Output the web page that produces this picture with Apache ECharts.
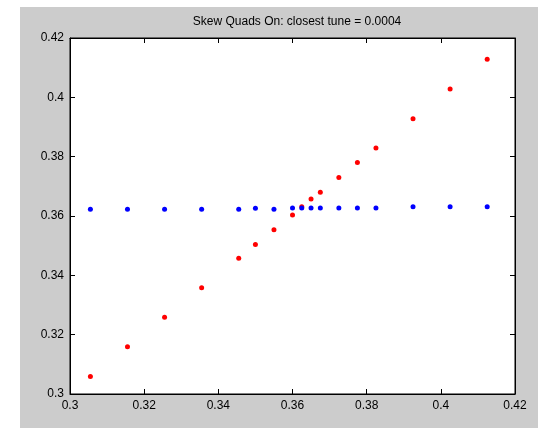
<!DOCTYPE html>
<html>
<head>
<meta charset="utf-8">
<script src="https://cdn.jsdelivr.net/npm/echarts@6/dist/echarts.min.js"></script>
<style>
  html, body { margin: 0; padding: 0; background: #ffffff; }
  #chart { width: 538px; height: 428px; }
</style>
</head>
<body>
<div id="chart"></div>
<script>
// tune scan data
const tuneX = [0.3055, 0.3155, 0.3255, 0.3355, 0.3455, 0.35, 0.355, 0.36, 0.3625, 0.365, 0.3675, 0.3725, 0.3775, 0.3825, 0.3925, 0.4025, 0.4125]
const redTune = [0.3059, 0.3159, 0.3259, 0.3358, 0.3458, 0.3504, 0.3554, 0.3603, 0.3631, 0.3657, 0.3680, 0.3730, 0.3780, 0.3829, 0.3928, 0.4028, 0.4128]
const blueTune = [0.3623, 0.3623, 0.3623, 0.3623, 0.3623, 0.3626, 0.3623, 0.3627, 0.3627, 0.3627, 0.3627, 0.3627, 0.3627, 0.3627, 0.3631, 0.3631, 0.3631]
const axisMin = 0.3
const axisMax = 0.42
const axisStep = 0.02

const fmt = v => String(parseFloat(v.toFixed(2)))
const font = '"Liberation Sans", Arial, sans-serif'

const pairs = (ys) => tuneX.map((x, i) => [x, ys[i]])

const mainAxis = (pos) => ({
  type: 'value',
  position: pos,
  min: axisMin,
  max: axisMax,
  interval: axisStep,
  axisLine: { show: true, onZero: false, lineStyle: { color: '#000', width: 1 } },
  axisTick: { show: true, inside: true, length: 5, lineStyle: { color: '#000' } },
  axisLabel: { show: true, color: '#000', fontSize: 12, fontFamily: font, formatter: fmt, margin: 6 },
  splitLine: { show: false }
})
const mirrorAxis = (pos) => Object.assign(mainAxis(pos), {
  axisLabel: { show: false }
})

const chart = echarts.init(document.getElementById('chart'))
chart.setOption({
  animation: false,
  backgroundColor: '#ffffff',
  graphic: [{
    type: 'rect', z: -10, silent: true,
    shape: { x: 20, y: 7, width: 518, height: 421 },
    style: { fill: '#cccccc' }
  }],
  title: {
    text: 'Skew Quads On: closest tune = 0.0004',
    left: 292, top: 11, textAlign: 'center',
    textStyle: { fontSize: 12, fontWeight: 'normal', color: '#000', fontFamily: font }
  },
  grid: { left: 70, top: 38, width: 445, height: 356, show: true, backgroundColor: '#ffffff', borderColor: '#000', borderWidth: 1 },
  xAxis: [mainAxis('bottom'), mirrorAxis('top')],
  yAxis: [mainAxis('left'), mirrorAxis('right')],
  series: [
    {
      type: 'scatter', data: pairs(redTune),
      symbol: 'circle', symbolSize: 5,
      itemStyle: { color: '#ff0000', opacity: 1 }
    },
    {
      type: 'scatter', data: pairs(blueTune),
      symbol: 'circle', symbolSize: 5,
      itemStyle: { color: '#0000ff', opacity: 1 }
    }
  ]
})
</script>
</body>
</html>
